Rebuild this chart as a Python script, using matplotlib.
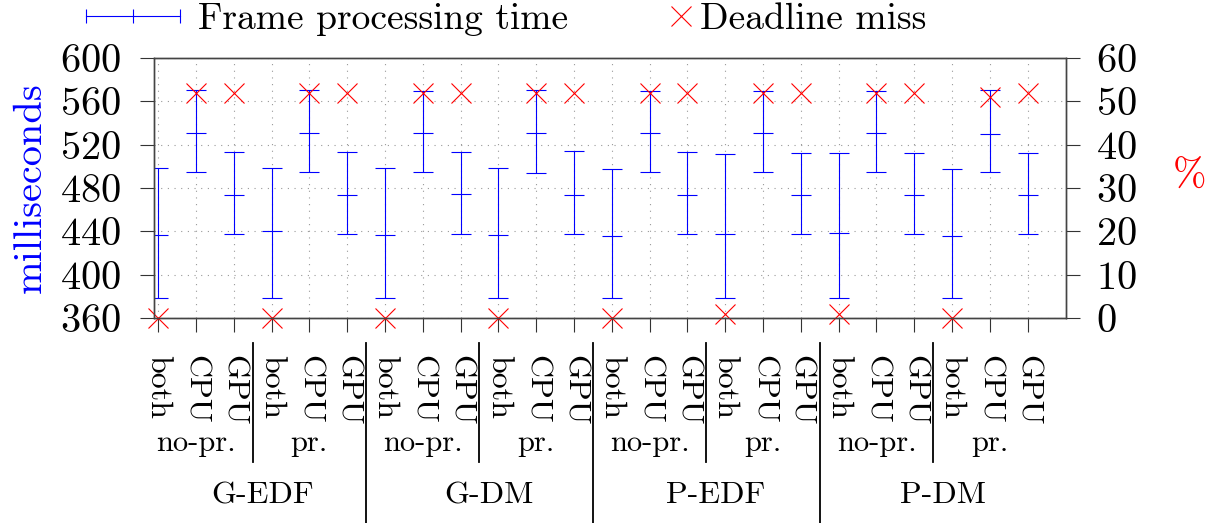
import numpy as np
import matplotlib
matplotlib.use("Agg")
import matplotlib.pyplot as plt
from matplotlib.lines import Line2D
from matplotlib.legend_handler import HandlerLine2D

plt.rcParams['font.family'] = ['cmr10', 'DejaVu Serif']
plt.rcParams['mathtext.fontset'] = 'cm'
plt.rcParams['axes.unicode_minus'] = False
plt.rcParams['axes.formatter.use_mathtext'] = True

# categories
schedulers = ["G-EDF", "G-DM", "P-EDF", "P-DM"]
modes = ["no-pr.", "pr."]
targets = ["both", "CPU", "GPU"]

# frame processing time (ms)
fpt_mean = [436.2, 531.0, 473.9, 440.2, 531.0, 473.9,
            436.2, 530.7, 474.2, 436.2, 530.7, 473.9,
            435.9, 530.4, 473.9, 437.5, 530.7, 473.6,
            438.4, 530.4, 473.6, 435.9, 530.1, 473.9]
fpt_max = [498.3, 570.5, 513.4, 498.3, 570.5, 513.4,
           498.3, 569.9, 513.1, 498.3, 570.5, 514.0,
           497.4, 569.6, 512.8, 511.5, 569.6, 512.5,
           511.9, 569.6, 512.5, 497.4, 570.2, 512.5]
fpt_min = [378.8, 494.6, 437.8, 378.8, 494.6, 437.8,
           378.8, 494.6, 437.8, 378.8, 494.0, 437.8,
           378.8, 494.6, 437.8, 378.8, 494.6, 437.8,
           378.8, 494.6, 437.8, 378.5, 494.6, 437.8]
# deadline miss (%)
miss_pct = [0, 52, 52, 0, 52, 52,
            0, 52, 52, 0, 52, 52,
            0, 52, 52, 1, 52, 52,
            1, 52, 52, 0, 51, 52]

labels = targets * (len(schedulers) * len(modes))
x = np.arange(len(labels))
mean = np.array(fpt_mean)
err = [mean - np.array(fpt_min), np.array(fpt_max) - mean]

FS_CAT = 23
FS_TICK = 29
FS_LEG = 27
FS_LAB = 29

fig = plt.figure(figsize=(12.15, 5.23), dpi=100)
ax = fig.add_axes([0.127, 0.392, 0.750, 0.497])
ax2 = ax.twinx()

ax.errorbar(x, mean, yerr=err, fmt='_', color='blue', ecolor='blue',
            elinewidth=0.8, capsize=7.2, capthick=0.8,
            markersize=14.4, markeredgewidth=0.8)
ax2.plot(x, miss_pct, linestyle='none', marker='x', color='red',
         markersize=14.4, markeredgewidth=0.8, clip_on=False)

ax.set_xlim(-0.1, 24)
ax.set_ylim(360, 600)
ax2.set_ylim(0, 60)
ax.set_yticks(np.arange(360, 601, 40))
ax2.set_yticks(np.arange(0, 61, 10))
ax.set_xticks(x)
ax.set_xticklabels(labels, rotation=-90, fontsize=FS_CAT, va='top', ha='center')
ax.tick_params(axis='x', direction='out', length=10, pad=17, color='#333333')
ax.tick_params(axis='y', direction='out', length=10, pad=14, labelsize=FS_TICK, color='#333333')
ax2.tick_params(axis='y', direction='out', length=10, pad=12, labelsize=FS_TICK, color='#333333')
ax.set_axisbelow(True)
ax.grid(True, linestyle=(0, (1, 5)), color='#999999', linewidth=0.8)
for a in (ax, ax2):
    for s in a.spines.values():
        s.set_color('#444444')
        s.set_linewidth(1.0)

ax.set_ylabel("milliseconds", color='blue', fontsize=FS_LAB, va='center')
ax.yaxis.set_label_coords(-0.135, 0.5)
ax2.set_ylabel("%", color='red', fontsize=FS_LAB, rotation=0, va='center', ha='center')
ax2.yaxis.set_label_coords(1.136, 0.542)

# group labels below the tick labels
tr = ax.get_xaxis_transform()
n_t = len(targets)
for i, m in enumerate(modes * len(schedulers)):
    ax.text(i * n_t + 1, -0.51, m, transform=tr, ha='center', va='baseline', fontsize=22)
    if i % 2 == 0:
        ax.plot([i * n_t + 2.5] * 2, [-0.096, -0.554], transform=tr, color='black',
                lw=1.3, clip_on=False)
for j, s in enumerate(schedulers):
    ax.text(j * 6 + 2.75, -0.713, s, transform=tr, ha='center', va='baseline', fontsize=23)
    if j > 0:
        ax.plot([j * 6 - 0.5] * 2, [-0.096, -0.80], transform=tr, color='black',
                lw=1.3, clip_on=False)


class RightEndMarker(HandlerLine2D):
    # put the single marker at the right end of the handle box
    def get_xdata(self, legend, xdescent, ydescent, width, height, fontsize):
        xd = np.array([-xdescent + width - 1, -xdescent + width + 1])
        return xd, xd[:1]


h1 = Line2D([], [], color='blue', lw=0.8, marker='|', markersize=10, markeredgewidth=0.8)
h2 = Line2D([], [], color='red', linestyle='none', marker='x', markersize=14.4,
            markeredgewidth=0.8)
fig.legend([h1, h2], ["Frame processing time", "Deadline miss"], ncol=2,
           loc='center left', bbox_to_anchor=(86 / 1215, 1 - 19 / 523),
           frameon=False, fontsize=FS_LEG, borderpad=0, borderaxespad=0,
           handlelength=2.5, handletextpad=0.5, columnspacing=0.5,
           handler_map={h1: HandlerLine2D(numpoints=3, marker_pad=0),
                        h2: RightEndMarker(numpoints=1)})

fig.savefig("out.png", dpi=100)
